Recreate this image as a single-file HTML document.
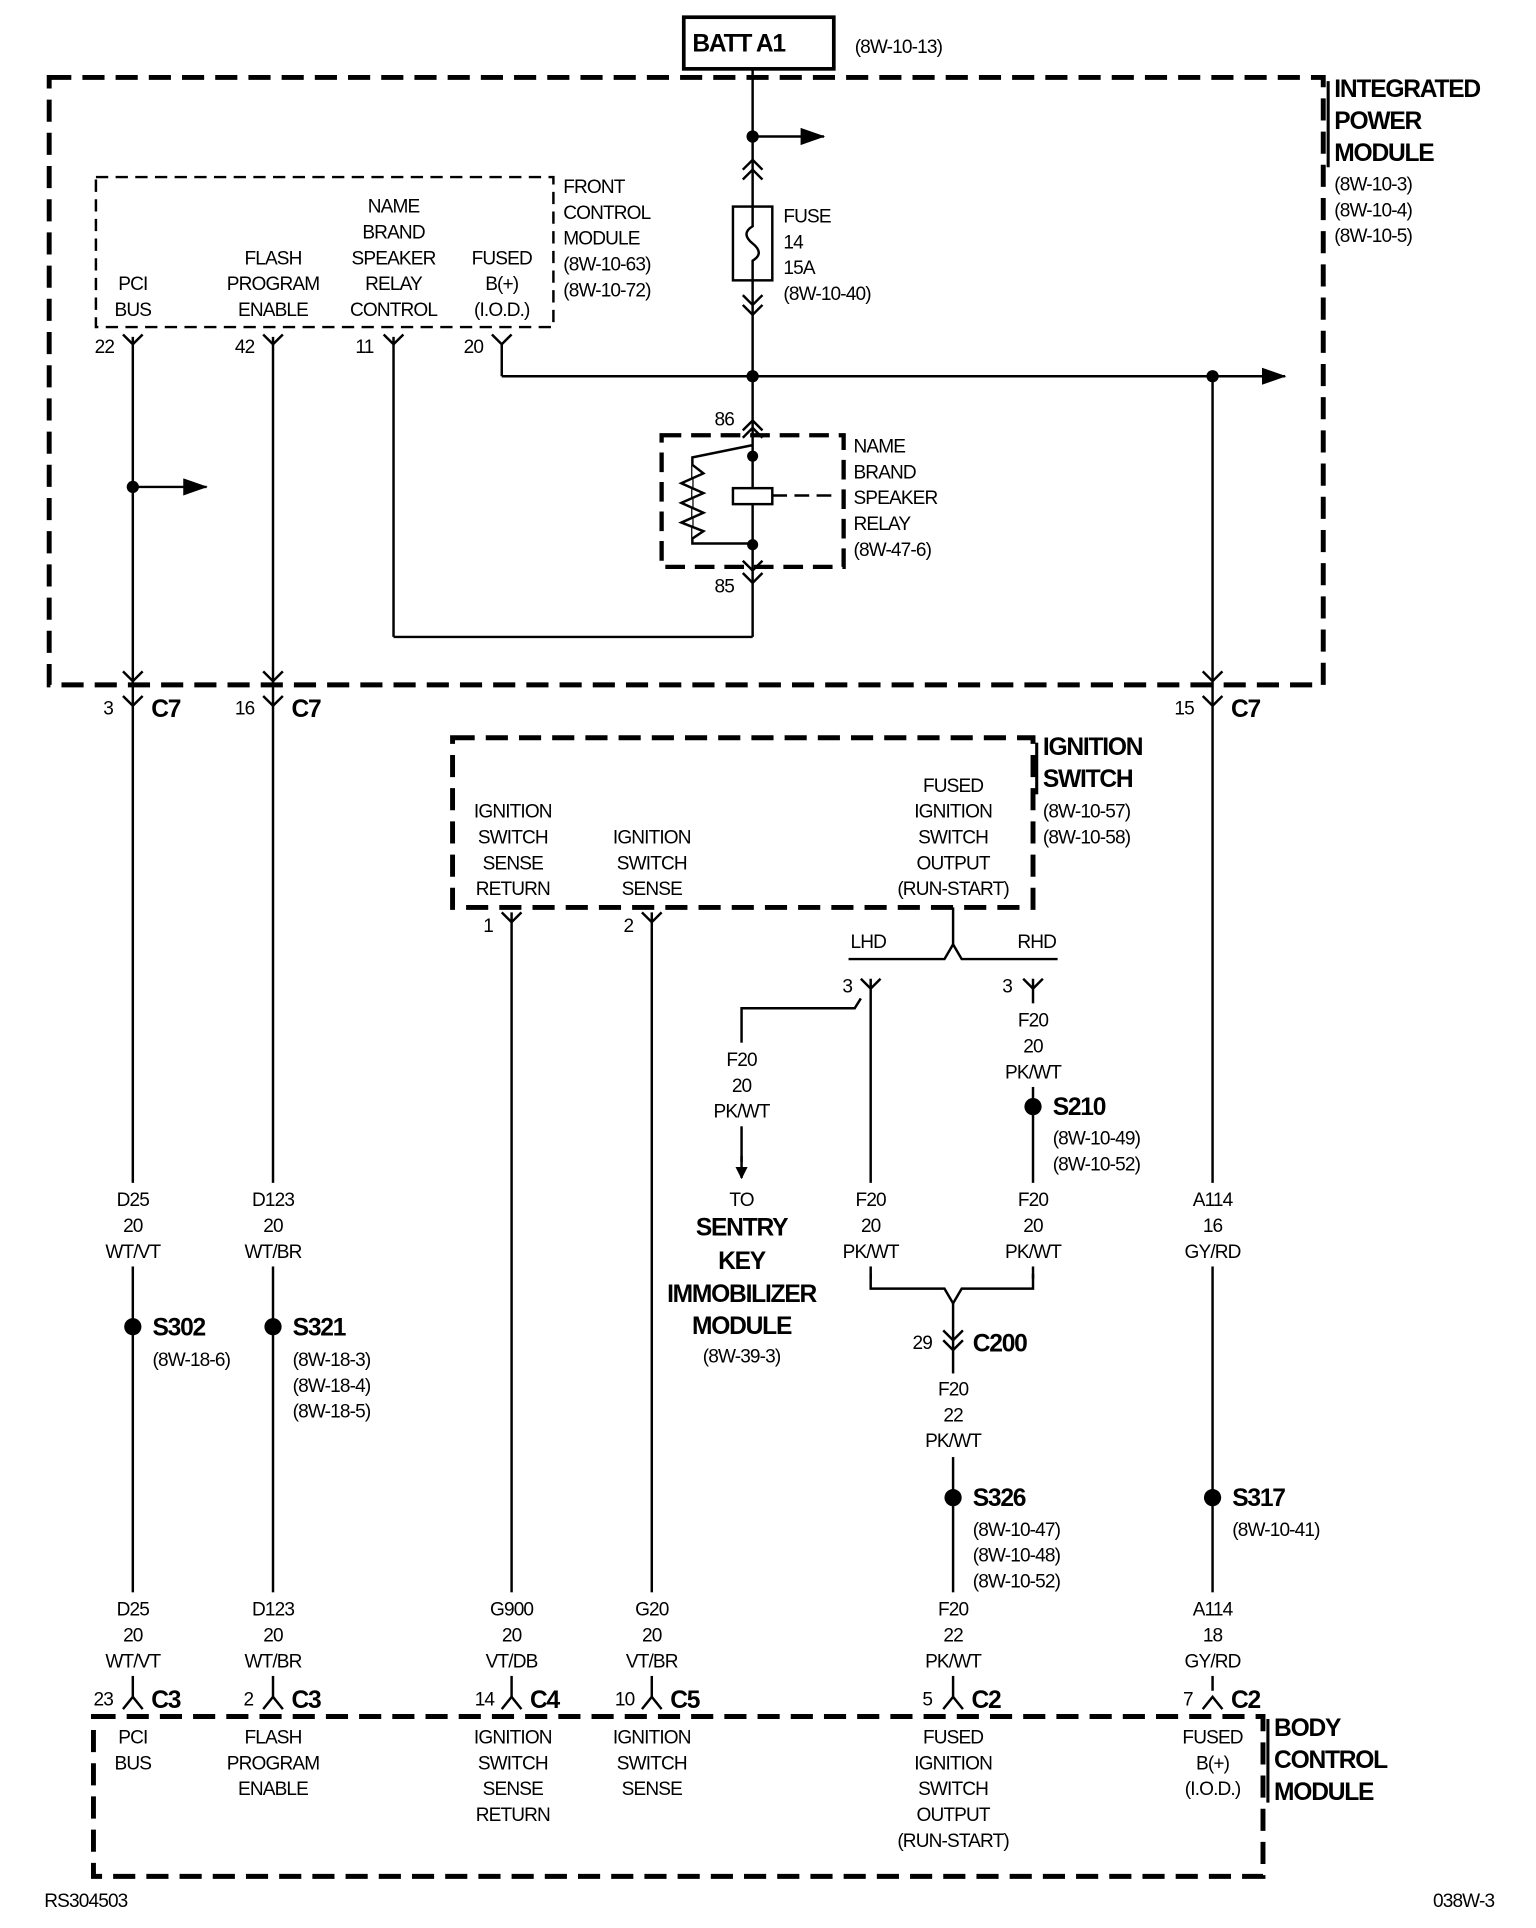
<!DOCTYPE html>
<html><head><meta charset="utf-8"><style>
html,body{margin:0;padding:0;background:#fff}
svg{display:block}
text{font-family:"Liberation Sans",sans-serif;font-size:15.5px;fill:#000;letter-spacing:-0.7px}
.b{font-weight:bold;font-size:20px;letter-spacing:-1px}
.m{text-anchor:middle}
</style></head><body>
<svg width="1536" height="1928" viewBox="0 0 1249 1568" preserveAspectRatio="none" xmlns="http://www.w3.org/2000/svg">
<defs><marker id="ar" markerWidth="10" markerHeight="10" refX="9" refY="5" orient="auto" markerUnits="userSpaceOnUse"><path d="M0,0 L10,5 L0,10 Z"/></marker>
<marker id="ar2" markerWidth="20" markerHeight="14" refX="19" refY="7" orient="auto" markerUnits="userSpaceOnUse"><path d="M0,0 L20,7 L0,14 Z"/></marker></defs>
<g fill="none" stroke="#000">
<rect x="556" y="14" width="122" height="42" stroke-width="3"/>
<rect x="40" y="63" width="1036" height="494" stroke-width="4" stroke-dasharray="18,9"/>
<line x1="1080" y1="66" x2="1080" y2="136" stroke-width="2.5"/>
<rect x="78" y="144" width="372" height="122" stroke-width="2" stroke-dasharray="10,6"/>
<rect x="538" y="354" width="148" height="107" stroke-width="3.5" stroke-dasharray="16,8"/>
<rect x="368" y="600" width="472" height="138" stroke-width="4" stroke-dasharray="18,9"/>
<line x1="843" y1="604" x2="843" y2="646" stroke-width="2.5"/>
<rect x="76" y="1396" width="951" height="130" stroke-width="4" stroke-dasharray="18,9"/>
<line x1="1031" y1="1398" x2="1031" y2="1466" stroke-width="2.5"/>
<g stroke-width="2">
<line x1="612" y1="56" x2="612" y2="518"/>
<line x1="612" y1="111" x2="670" y2="111" marker-end="url(#ar2)"/>
<line x1="408" y1="280" x2="408" y2="306"/>
<line x1="408" y1="306" x2="1045" y2="306" marker-end="url(#ar2)"/>
<line x1="986" y1="306" x2="986" y2="1375"/>
<line x1="108" y1="274" x2="108" y2="1380"/>
<line x1="108" y1="396" x2="168" y2="396" marker-end="url(#ar2)"/>
<line x1="222" y1="274" x2="222" y2="1380"/>
<line x1="320" y1="274" x2="320" y2="518"/>
<line x1="320" y1="518" x2="612" y2="518"/>
<line x1="416" y1="742" x2="416" y2="1380"/>
<line x1="530" y1="742" x2="530" y2="1380"/>
<line x1="775" y1="738" x2="775" y2="768"/>
<polyline points="690,780 768,780 775,768 782,780 860,780"/>
<line x1="708" y1="796" x2="708" y2="1040"/>
<polyline points="700,812 695,820 603,820 603,945"/>
<line x1="840" y1="796" x2="840" y2="1040"/>
<polyline points="708,1036 708,1048 768,1048 775,1060 782,1048 840,1048 840,1036"/>
<line x1="775" y1="1060" x2="775" y2="1380"/>
<rect x="596" y="168" width="32" height="60" fill="#fff"/>
<path d="M612,168 L612,184 Q602,190 612,198 Q622,206 612,212 L612,228"/>
<polyline points="612,362 563,372 563,442 612,442"/>
<polyline points="563,378 572,385 554,393 572,401 554,409 572,417 554,425 572,432 563,438" fill="#fff"/>
<rect x="596" y="397" width="32" height="13" fill="#fff"/>
<line x1="628" y1="403" x2="682" y2="403" stroke-dasharray="12,6"/>
</g>
<g stroke-width="2">
<path d="M604,138 L612,130 L620,138 M604,146 L612,138 L620,146"/>
<path d="M604,240 L612,248 L620,240 M604,248 L612,256 L620,248"/>
<path d="M604,350 L612,342 L620,350 M604,356 L612,348 L620,356"/>
<path d="M604,456 L612,464 L620,456 M604,466 L612,474 L620,466"/>
<path d="M100,272 L108,280 L116,272 M214,272 L222,280 L230,272 M312,272 L320,280 L328,272 M400,272 L408,280 L416,272"/>
<path d="M100,546 L108,554 L116,546 M214,546 L222,554 L230,546 M978,546 L986,554 L994,546"/>
<path d="M100,566 L108,574 L116,566 M214,566 L222,574 L230,566 M978,566 L986,574 L994,566"/>
<path d="M408,742 L416,750 L424,742 M522,742 L530,750 L538,742"/>
<path d="M700,796 L708,804 L716,796 M832,796 L840,804 L848,796"/>
<path d="M767,1082 L775,1090 L783,1082 M767,1090 L775,1098 L783,1090"/>
<path d="M100,1390 L108,1380 L116,1390 M214,1390 L222,1380 L230,1390 M408,1390 L416,1380 L424,1390 M522,1390 L530,1380 L538,1390 M767,1390 L775,1380 L783,1390 M978,1390 L986,1380 L994,1390"/>
</g>
<line x1="603" y1="940" x2="603" y2="958" stroke-width="2" marker-end="url(#ar)"/>
</g>
<g fill="#fff">
<rect x="80" y="962" width="56" height="68"/><rect x="192" y="962" width="60" height="68"/>
<rect x="680" y="962" width="56" height="68"/><rect x="812" y="962" width="56" height="68"/><rect x="956" y="962" width="60" height="68"/>
<rect x="812" y="816" width="56" height="68"/><rect x="575" y="848" width="56" height="68"/><rect x="747" y="1117" width="56" height="68"/>
<rect x="80" y="1295" width="56" height="68"/><rect x="192" y="1295" width="60" height="68"/><rect x="386" y="1295" width="60" height="68"/>
<rect x="500" y="1295" width="60" height="68"/><rect x="747" y="1295" width="56" height="68"/><rect x="956" y="1295" width="60" height="68"/>
</g>
<g fill="#000">
<circle cx="612" cy="111" r="5"/><circle cx="612" cy="306" r="5"/><circle cx="986" cy="306" r="5"/><circle cx="108" cy="396" r="5"/>
<circle cx="612" cy="371" r="4.5"/><circle cx="612" cy="443" r="4.5"/>
<circle cx="108" cy="1079" r="7"/><circle cx="222" cy="1079" r="7"/><circle cx="840" cy="900" r="7"/><circle cx="775" cy="1218" r="7"/><circle cx="986" cy="1218" r="7"/>
</g>
<text class="b" x="563" y="42">BATT A1</text>
<text x="695" y="43">(8W-10-13)</text>
<text class="b" x="1085" y="79">INTEGRATED</text><text class="b" x="1085" y="105">POWER</text><text class="b" x="1085" y="131">MODULE</text>
<text x="1085" y="155">(8W-10-3)</text><text x="1085" y="176">(8W-10-4)</text><text x="1085" y="197">(8W-10-5)</text>
<text x="458" y="157">FRONT</text><text x="458" y="178">CONTROL</text><text x="458" y="199">MODULE</text><text x="458" y="220">(8W-10-63)</text><text x="458" y="241">(8W-10-72)</text>
<text class="m" x="108" y="236">PCI</text><text class="m" x="108" y="257">BUS</text>
<text class="m" x="222" y="215">FLASH</text><text class="m" x="222" y="236">PROGRAM</text><text class="m" x="222" y="257">ENABLE</text>
<text class="m" x="320" y="173">NAME</text><text class="m" x="320" y="194">BRAND</text><text class="m" x="320" y="215">SPEAKER</text><text class="m" x="320" y="236">RELAY</text><text class="m" x="320" y="257">CONTROL</text>
<text class="m" x="408" y="215">FUSED</text><text class="m" x="408" y="236">B(+)</text><text class="m" x="408" y="257">(I.O.D.)</text>
<text x="77" y="287">22</text><text x="191" y="287">42</text><text x="289" y="287">11</text><text x="377" y="287">20</text>
<text x="637" y="181">FUSE</text><text x="637" y="202">14</text><text x="637" y="223">15A</text><text x="637" y="244">(8W-10-40)</text>
<text x="581" y="346">86</text><text x="581" y="482">85</text>
<text x="694" y="368">NAME</text><text x="694" y="389">BRAND</text><text x="694" y="410">SPEAKER</text><text x="694" y="431">RELAY</text><text x="694" y="452">(8W-47-6)</text>
<text x="84" y="581">3</text><text class="b" x="123" y="583">C7</text>
<text x="191" y="581">16</text><text class="b" x="237" y="583">C7</text>
<text x="955" y="581">15</text><text class="b" x="1001" y="583">C7</text>
<text class="b" x="848" y="614">IGNITION</text><text class="b" x="848" y="640">SWITCH</text>
<text x="848" y="665">(8W-10-57)</text><text x="848" y="686">(8W-10-58)</text>
<text class="m" x="417" y="665">IGNITION</text><text class="m" x="417" y="686">SWITCH</text><text class="m" x="417" y="707">SENSE</text><text class="m" x="417" y="728">RETURN</text>
<text class="m" x="530" y="686">IGNITION</text><text class="m" x="530" y="707">SWITCH</text><text class="m" x="530" y="728">SENSE</text>
<text class="m" x="775" y="644">FUSED</text><text class="m" x="775" y="665">IGNITION</text><text class="m" x="775" y="686">SWITCH</text><text class="m" x="775" y="707">OUTPUT</text><text class="m" x="775" y="728">(RUN-START)</text>
<text x="393" y="758">1</text><text x="507" y="758">2</text>
<text class="m" x="706" y="771">LHD</text><text class="m" x="843" y="771">RHD</text>
<text x="685" y="807">3</text><text x="815" y="807">3</text>
<text class="m" x="840" y="835">F20</text><text class="m" x="840" y="856">20</text><text class="m" x="840" y="877">PK/WT</text>
<text class="b" x="856" y="907">S210</text><text x="856" y="931">(8W-10-49)</text><text x="856" y="952">(8W-10-52)</text>
<text class="m" x="603" y="867">F20</text><text class="m" x="603" y="888">20</text><text class="m" x="603" y="909">PK/WT</text>
<text class="m" x="603" y="981">TO</text>
<text class="b m" x="603" y="1005">SENTRY</text><text class="b m" x="603" y="1032">KEY</text><text class="b m" x="603" y="1059">IMMOBILIZER</text><text class="b m" x="603" y="1085">MODULE</text>
<text class="m" x="603" y="1108">(8W-39-3)</text>
<text class="m" x="108" y="981">D25</text><text class="m" x="108" y="1002">20</text><text class="m" x="108" y="1023">WT/VT</text>
<text class="m" x="222" y="981">D123</text><text class="m" x="222" y="1002">20</text><text class="m" x="222" y="1023">WT/BR</text>
<text class="m" x="708" y="981">F20</text><text class="m" x="708" y="1002">20</text><text class="m" x="708" y="1023">PK/WT</text>
<text class="m" x="840" y="981">F20</text><text class="m" x="840" y="1002">20</text><text class="m" x="840" y="1023">PK/WT</text>
<text class="m" x="986" y="981">A114</text><text class="m" x="986" y="1002">16</text><text class="m" x="986" y="1023">GY/RD</text>
<text class="b" x="124" y="1086">S302</text><text x="124" y="1111">(8W-18-6)</text>
<text class="b" x="238" y="1086">S321</text><text x="238" y="1111">(8W-18-3)</text><text x="238" y="1132">(8W-18-4)</text><text x="238" y="1153">(8W-18-5)</text>
<text x="742" y="1097">29</text><text class="b" x="791" y="1099">C200</text>
<text class="m" x="775" y="1135">F20</text><text class="m" x="775" y="1156">22</text><text class="m" x="775" y="1177">PK/WT</text>
<text class="b" x="791" y="1225">S326</text><text x="791" y="1249">(8W-10-47)</text><text x="791" y="1270">(8W-10-48)</text><text x="791" y="1291">(8W-10-52)</text>
<text class="b" x="1002" y="1225">S317</text><text x="1002" y="1249">(8W-10-41)</text>
<text class="m" x="108" y="1314">D25</text><text class="m" x="108" y="1335">20</text><text class="m" x="108" y="1356">WT/VT</text>
<text class="m" x="222" y="1314">D123</text><text class="m" x="222" y="1335">20</text><text class="m" x="222" y="1356">WT/BR</text>
<text class="m" x="416" y="1314">G900</text><text class="m" x="416" y="1335">20</text><text class="m" x="416" y="1356">VT/DB</text>
<text class="m" x="530" y="1314">G20</text><text class="m" x="530" y="1335">20</text><text class="m" x="530" y="1356">VT/BR</text>
<text class="m" x="775" y="1314">F20</text><text class="m" x="775" y="1335">22</text><text class="m" x="775" y="1356">PK/WT</text>
<text class="m" x="986" y="1314">A114</text><text class="m" x="986" y="1335">18</text><text class="m" x="986" y="1356">GY/RD</text>
<text x="76" y="1387">23</text><text class="b" x="123" y="1389">C3</text>
<text x="198" y="1387">2</text><text class="b" x="237" y="1389">C3</text>
<text x="386" y="1387">14</text><text class="b" x="431" y="1389">C4</text>
<text x="500" y="1387">10</text><text class="b" x="545" y="1389">C5</text>
<text x="750" y="1387">5</text><text class="b" x="790" y="1389">C2</text>
<text x="962" y="1387">7</text><text class="b" x="1001" y="1389">C2</text>
<text class="b" x="1036" y="1412">BODY</text><text class="b" x="1036" y="1438">CONTROL</text><text class="b" x="1036" y="1464">MODULE</text>
<text class="m" x="108" y="1418">PCI</text><text class="m" x="108" y="1439">BUS</text>
<text class="m" x="222" y="1418">FLASH</text><text class="m" x="222" y="1439">PROGRAM</text><text class="m" x="222" y="1460">ENABLE</text>
<text class="m" x="417" y="1418">IGNITION</text><text class="m" x="417" y="1439">SWITCH</text><text class="m" x="417" y="1460">SENSE</text><text class="m" x="417" y="1481">RETURN</text>
<text class="m" x="530" y="1418">IGNITION</text><text class="m" x="530" y="1439">SWITCH</text><text class="m" x="530" y="1460">SENSE</text>
<text class="m" x="775" y="1418">FUSED</text><text class="m" x="775" y="1439">IGNITION</text><text class="m" x="775" y="1460">SWITCH</text><text class="m" x="775" y="1481">OUTPUT</text><text class="m" x="775" y="1502">(RUN-START)</text>
<text class="m" x="986" y="1418">FUSED</text><text class="m" x="986" y="1439">B(+)</text><text class="m" x="986" y="1460">(I.O.D.)</text>
<text x="36" y="1551">RS304503</text>
<text x="1215" y="1551" text-anchor="end">038W-3</text>
</svg>
</body></html>
